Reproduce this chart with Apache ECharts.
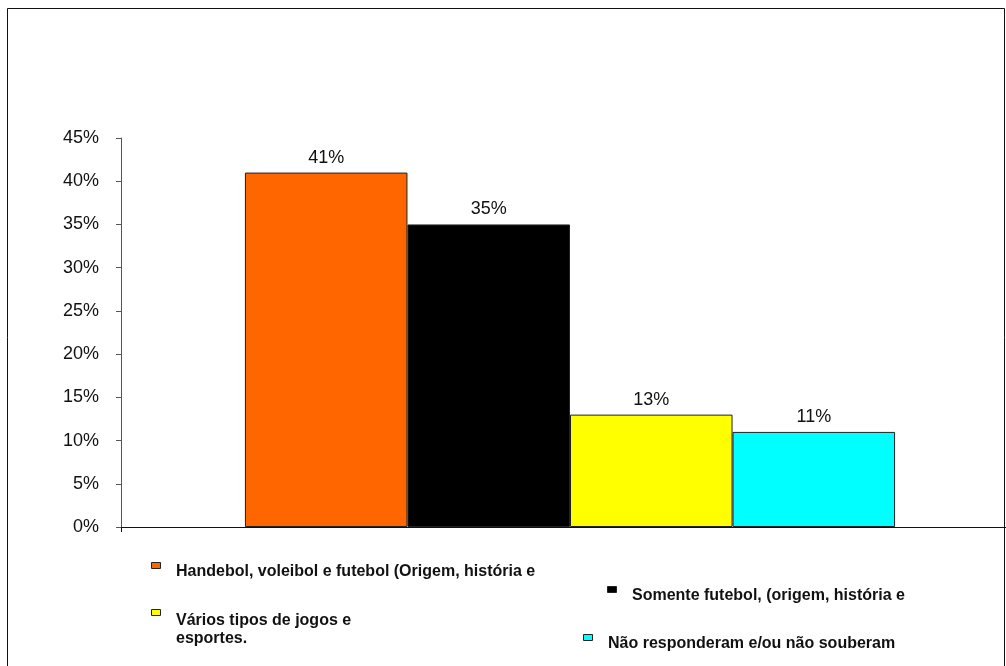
<!DOCTYPE html>
<html><head><meta charset="utf-8">
<script src="https://cdn.jsdelivr.net/npm/echarts@6/dist/echarts.min.js"></script>
<style>html,body{margin:0;padding:0;background:#fff;overflow:hidden;width:1006px;height:666px}#c{width:1019px;height:666px}</style>
</head><body><div id="c"></div>
<script>
const categories = [''];
const seriesNames = [
  'Handebol, voleibol e futebol (Origem, história e',
  'Somente futebol, (origem, história e',
  'Vários tipos de jogos e\nesportes.',
  'Não responderam e/ou não souberam'
];
const seriesValues = [41, 35, 13, 11];
const seriesColors = ['#FF6600', '#000000', '#FFFF00', '#00FFFF'];
const yTicks = [0, 5, 10, 15, 20, 25, 30, 35, 40, 45];

const chart = echarts.init(document.getElementById('c'), null, {renderer: 'canvas'});
const font = 'Liberation Sans, Arial, sans-serif';
// legend layout (icon box and text anchor)
const legendLayout = [
  {ix: 151.5, iy: 562.5, tx: 176, ty: 572},
  {ix: 607.5, iy: 586.5, tx: 632, ty: 596},
  {ix: 151.5, iy: 609.5, tx: 176, ty: 630},
  {ix: 583.5, iy: 634.5, tx: 608, ty: 644}
];
const legendGraphics = [];
seriesNames.forEach((n, i) => {
  const L = legendLayout[i];
  legendGraphics.push({
    type: 'rect', shape: {x: L.ix, y: L.iy, width: 9, height: 6},
    style: {fill: seriesColors[i], stroke: '#222', lineWidth: 1}, silent: true
  });
  legendGraphics.push({
    type: 'text', x: L.tx, y: L.ty,
    style: {text: n, fill: '#111', font: 'bold 16px ' + font, lineHeight: 18,
      textAlign: 'left', textVerticalAlign: 'middle', verticalAlign: 'middle'},
    silent: true
  });
});

chart.setOption({
  animation: false,
  backgroundColor: '#fff',
  textStyle: {fontFamily: font},
  grid: {left: 121, right: 0, top: 138, bottom: 139, containLabel: false},
  xAxis: {
    type: 'category', data: categories,
    axisLine: {lineStyle: {color: '#111', width: 1}},
    axisTick: {show: true, inside: false, length: 5, lineStyle: {color: '#111'}},
    axisLabel: {show: false}
  },
  yAxis: {
    type: 'value', min: 0, max: 45, interval: 5,
    axisLine: {show: true, lineStyle: {color: '#555', width: 1}},
    axisTick: {show: true, length: 5, lineStyle: {color: '#555'}},
    splitLine: {show: false},
    axisLabel: {formatter: v => v + '%', fontFamily: font, fontSize: 18, color: '#111', margin: 22,
      customValues: yTicks}
  },
  legend: {show: false},
  series: seriesNames.map((n, i) => ({
    name: n, type: 'bar',
    data: [seriesValues[i]],
    barGap: '0%', barCategoryGap: '27.6%',
    itemStyle: {color: seriesColors[i], borderColor: '#222', borderWidth: 1},
    label: {show: true, position: 'top', distance: 6, formatter: p => p.value + '%', fontFamily: font, fontSize: 18, color: '#111'}
  })),
  graphic: legendGraphics.concat([{
    type: 'rect', shape: {x: 7.5, y: 8.5, width: 997, height: 670},
    style: {fill: 'none', stroke: '#111', lineWidth: 1}, silent: true, z: 100
  }])
});
</script></body></html>
